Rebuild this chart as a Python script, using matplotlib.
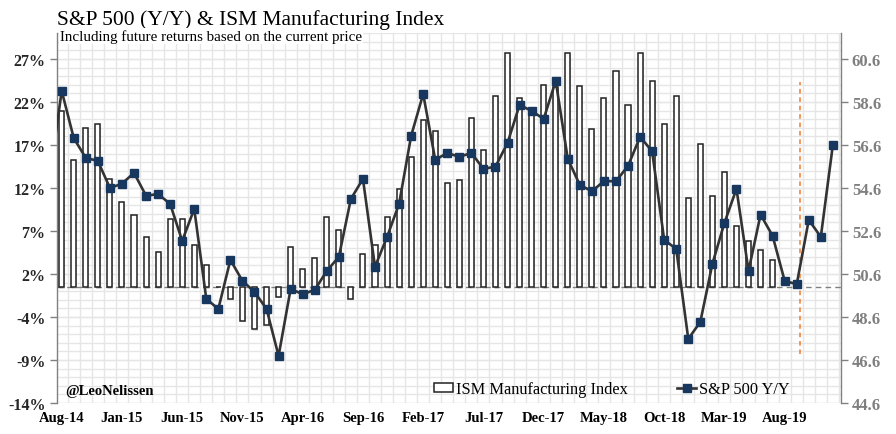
import numpy as np
import pandas as pd
import matplotlib
matplotlib.use("Agg")
import matplotlib.pyplot as plt
from matplotlib.patches import Patch
from matplotlib.lines import Line2D

# ---------------- data ----------------
months = pd.date_range("2014-07-01", "2019-12-01", freq="MS")
month_labels = [d.strftime("%b-%y") for d in months]

sp_yoy = [12.7, 22.8, 17.3, 15.0, 14.65, 11.5, 12.0, 13.26, 10.6, 10.8, 9.65, 5.35,
          9.07, -1.40, -2.56, 3.14, 0.70, -0.58, -2.56, -8.02, -0.23, -0.85, -0.35, 1.86,
          3.49, 10.23, 12.56, 2.33, 5.81, 9.65, 17.56, 22.44, 14.77, 15.58, 15.12, 15.58,
          13.72, 13.99, 16.74, 21.16, 20.47, 19.53, 23.95, 14.88, 11.86, 11.12, 12.29, 12.29,
          14.07, 17.44, 15.78, 5.47, 4.42, -6.05, -4.07, 2.67, 7.44, 11.40, 1.86, 8.41,
          5.93, 0.70, 0.31, 7.79, 5.81, 16.51]

ism_labels = month_labels[1:61]   # Aug-14 .. Jul-19
ism = [58.2, 55.9, 57.4, 57.6, 55.0, 53.95, 53.35, 52.33, 51.63, 53.16, 53.16, 51.95,
       51.02, 50.0, 49.46, 48.43, 48.05, 48.25, 49.55, 51.86, 50.85, 51.35, 53.26, 52.65,
       49.46, 51.53, 51.95, 53.26, 54.56, 56.06, 57.78, 57.26, 54.84, 54.98, 57.86, 56.37,
       58.88, 60.88, 58.79, 58.2, 59.38, 59.3, 60.87, 59.36, 57.33, 58.77, 60.06, 58.45,
       60.87, 59.56, 57.56, 58.87, 54.13, 56.64, 54.22, 55.34, 52.81, 52.14, 51.72, 51.26]

xtick_labels = ["Aug-14", "Jan-15", "Jun-15", "Nov-15", "Apr-16", "Sep-16", "Feb-17",
                "Jul-17", "Dec-17", "May-18", "Oct-18", "Mar-19", "Aug-19"]
left_ticks = [-13.5, -8.5, -3.5, 1.5, 6.5, 11.5, 16.5, 21.5, 26.5]
left_tick_labels = ["-14%", "-9%", "-4%", "2%", "7%", "12%", "17%", "22%", "27%"]
right_ticks = [44.6, 46.6, 48.6, 50.6, 52.6, 54.6, 56.6, 58.6, 60.6]
right_tick_labels = ["44.6", "46.6", "48.6", "50.6", "52.6", "54.6", "56.6", "58.6", "60.6"]
marker_month = "Sep-19"

# ---------------- figure ----------------
SERIF = ["Liberation Serif", "DejaVu Serif"]
plt.rcParams["font.family"] = SERIF

W, H = 896, 435
fig = plt.figure(figsize=(W / 100, H / 100), dpi=100)
left_px, right_px, top_px, bot_px = 56.7, 840.7, 34, 404
ax = fig.add_axes([left_px / W, 1 - bot_px / H, (right_px - left_px) / W, (bot_px - top_px) / H])
ax2 = ax.twinx()

pos = {lab: i for i, lab in enumerate(month_labels)}
x_all = np.arange(len(month_labels))
x_ism = np.array([pos[l] for l in ism_labels])
ism_arr = np.array(ism)

# ISM bars (primary axis, ticks on the right)
ax.bar(x_ism + 0.08, ism_arr - 50, bottom=50 - 0.08, width=0.42, color="#000000",
       alpha=0.12, lw=0, zorder=2)
ax.bar(x_ism, ism_arr - 50, bottom=50, width=0.42, facecolor="white",
       edgecolor="#222222", lw=1.1, zorder=3)
ax.axhline(50, color="#808080", lw=1, ls=(0, (4, 3)), zorder=2.5)

ax.yaxis.tick_right()
ax.yaxis.set_label_position("right")
ax.set_yticks(right_ticks)
ax.set_yticklabels(right_tick_labels)
ax.set_yticks(np.arange(44.6, 61.85, 0.4), minor=True)
ax.set_xticks([pos[l] for l in xtick_labels])
ax.set_xticklabels(xtick_labels)
ax.set_xticks(np.arange(-0.5, len(month_labels) + 0.5, 1), minor=True)
ax.yaxis.remove_overlapping_locs = False
ax.yaxis.grid(True, which="both", color="#e6e6e6", lw=1, zorder=0)
ax.xaxis.grid(True, which="minor", color="#e6e6e6", lw=1, zorder=0)
ax.set_axisbelow(True)

ax.tick_params(axis="y", which="major", direction="out", length=5, width=1,
               color="#808080", labelcolor="#7f7f7f", labelsize=12, pad=3)
ax.tick_params(axis="y", which="minor", length=0)
ax.tick_params(axis="x", which="both", length=0, labelsize=10.5, pad=6, labelcolor="#000000")
for t in ax.get_yticklabels() + ax.get_xticklabels():
    t.set_fontweight("bold")

for s in ["top", "bottom"]:
    ax.spines[s].set_visible(False)
for s in ["left", "right"]:
    ax.spines[s].set_color("#808080")
    ax.spines[s].set_linewidth(1)

# S&P line (secondary axis, ticks on the left)
ax2.plot(x_all, sp_yoy, color="#333333", lw=1.9, marker="s", ms=5.2,
         mfc="#17375E", mec="#17375E", zorder=5, clip_on=True)
ax2.vlines(pos[marker_month] + 0.27, -7.8, 23.8, color="#ED7D31", lw=1.1,
           ls=(0, (3, 2.5)), zorder=4)
ax2.set_ylim(-13.5, -13.5 + (bot_px - top_px) / 8.6)
ax2.yaxis.tick_left()
ax2.set_yticks(left_ticks)
ax2.set_yticklabels(left_tick_labels)
ax2.tick_params(axis="y", direction="out", length=5, width=1, color="#808080",
                labelcolor="#262626", labelsize=11.5, pad=3)
for t in ax2.get_yticklabels():
    t.set_fontweight("bold")
for s in ax2.spines.values():
    s.set_visible(False)

# limits set after all plotting so autoscaling cannot override them
ax.set_ylim(44.6, 44.6 + (bot_px - top_px) / 21.5)
ax.set_xlim(pos["Aug-14"] - 0.415, pos["Dec-19"] + 0.65)

# legend
handles = [Patch(facecolor="white", edgecolor="#222222", lw=1.1),
           Line2D([], [], color="#333333", lw=1.9, marker="s", ms=5.2,
                  mfc="#17375E", mec="#17375E")]
leg = fig.legend(handles, ["ISM Manufacturing Index", "S&P 500 Y/Y"], ncol=2,
                 loc="center left", bbox_to_anchor=(434 / W, 1 - 390 / H),
                 frameon=False, fontsize=11.8, handlelength=1.15, handleheight=0.5,
                 handletextpad=0.2, columnspacing=3.0, borderpad=0, borderaxespad=0)

fig.text(65 / W, 1 - 391.5 / H, "@LeoNelissen", fontsize=10.5, fontweight="bold",
         va="center", ha="left", color="#000000")

fig.text(57 / W, 1 - 25.5 / H, "S&P 500 (Y/Y) & ISM Manufacturing Index", fontsize=15.5,
         va="baseline", ha="left", color="#000000")
fig.text(60 / W, 1 - 41 / H, "Including future returns based on the current price",
         fontsize=10.8, va="baseline", ha="left", color="#000000",
         bbox=dict(facecolor="white", edgecolor="none", pad=0.5))

fig.savefig("out.png", dpi=100, facecolor="white")
